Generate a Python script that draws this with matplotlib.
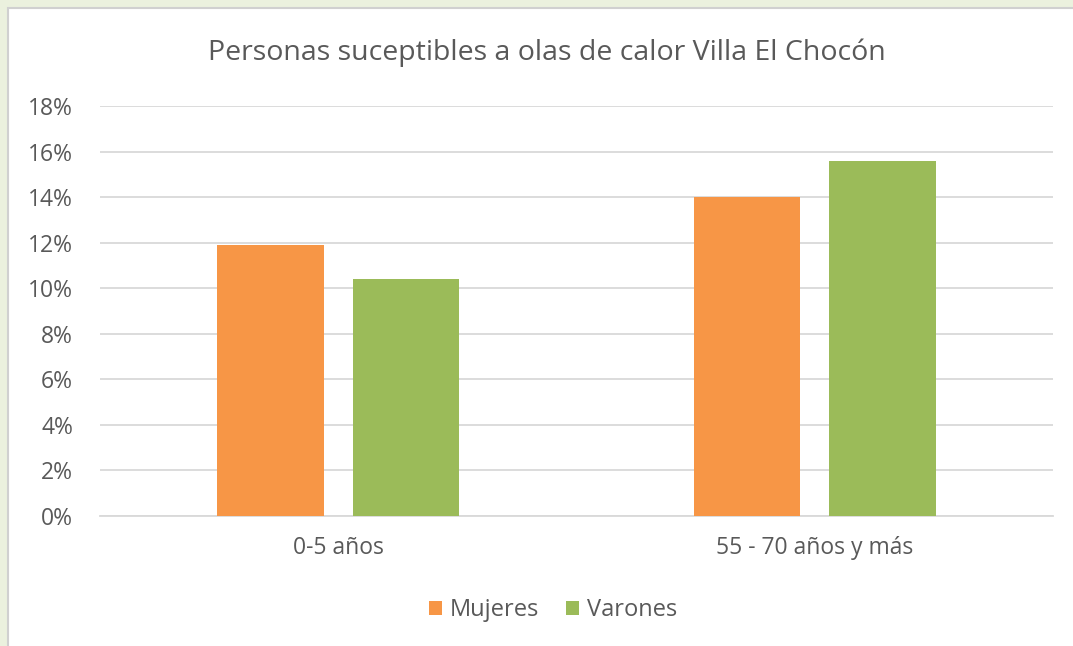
import matplotlib
matplotlib.use("Agg")
import matplotlib.pyplot as plt
from matplotlib.patches import Rectangle
import numpy as np

categories = ["0-5 años", "55 - 70 años y más"]
mujeres = [11.9, 14.0]
varones = [10.4, 15.6]
series_names = ["Mujeres", "Varones"]
yticks = [0, 2, 4, 6, 8, 10, 12, 14, 16, 18]

plt.rcParams["font.family"] = ["Open Sans", "DejaVu Sans"]
txt = "#595959"
fs = 16.5

W, H = 1073, 646
fig = plt.figure(figsize=(W / 100, H / 100), dpi=100)
fig.patch.set_facecolor("#EBF1DE")
fig.patches.append(Rectangle((8 / W, -0.1), 1.2, (H - 8) / H + 0.1,
                             transform=fig.transFigure, facecolor="white",
                             edgecolor="#D0D0D0", linewidth=1.5, zorder=-5))

ax = fig.add_axes([100 / W, 1 - 516 / H, 953 / W, (516 - 106) / H])
ax.set_zorder(2)
ax.set_facecolor("none")
x = np.arange(len(categories))
bw = 0.224
off = 0.142
ax.bar(x - off, mujeres, bw, color="#F79646", label=series_names[0], zorder=3)
ax.bar(x + off, varones, bw, color="#9BBB59", label=series_names[1], zorder=3)

ax.set_xlim(-0.5, 1.5)
ax.set_ylim(0, 18)
ax.set_yticks(yticks)
ax.set_yticklabels([f"{v}%" for v in yticks], color=txt, fontsize=fs)
ax.set_xticks(x)
ax.set_xticklabels(categories, color=txt, fontsize=fs)
ax.tick_params(axis="both", length=0)
ax.tick_params(axis="y", pad=19.5)
ax.tick_params(axis="x", pad=14.5)
ax.grid(axis="y", color="#D9D9D9", linewidth=1.3, zorder=0)
for s in ["top", "right", "left"]:
    ax.spines[s].set_visible(False)
ax.spines["bottom"].set_color("#D9D9D9")
ax.spines["bottom"].set_linewidth(1.3)

fig.text(547 / W, 1 - 53 / H, "Personas suceptibles a olas de calor Villa El Chocón",
         ha="center", va="center", fontsize=20.5, color=txt)

leg = fig.legend(loc="center", bbox_to_anchor=(553 / W, 1 - 610 / H), ncol=2,
                 frameon=False, fontsize=17, handlelength=0.55, handleheight=0.55,
                 handletextpad=0.35, columnspacing=1.1)
for t in leg.get_texts():
    t.set_color(txt)

fig.savefig("out.png", dpi=100, facecolor=fig.get_facecolor())
